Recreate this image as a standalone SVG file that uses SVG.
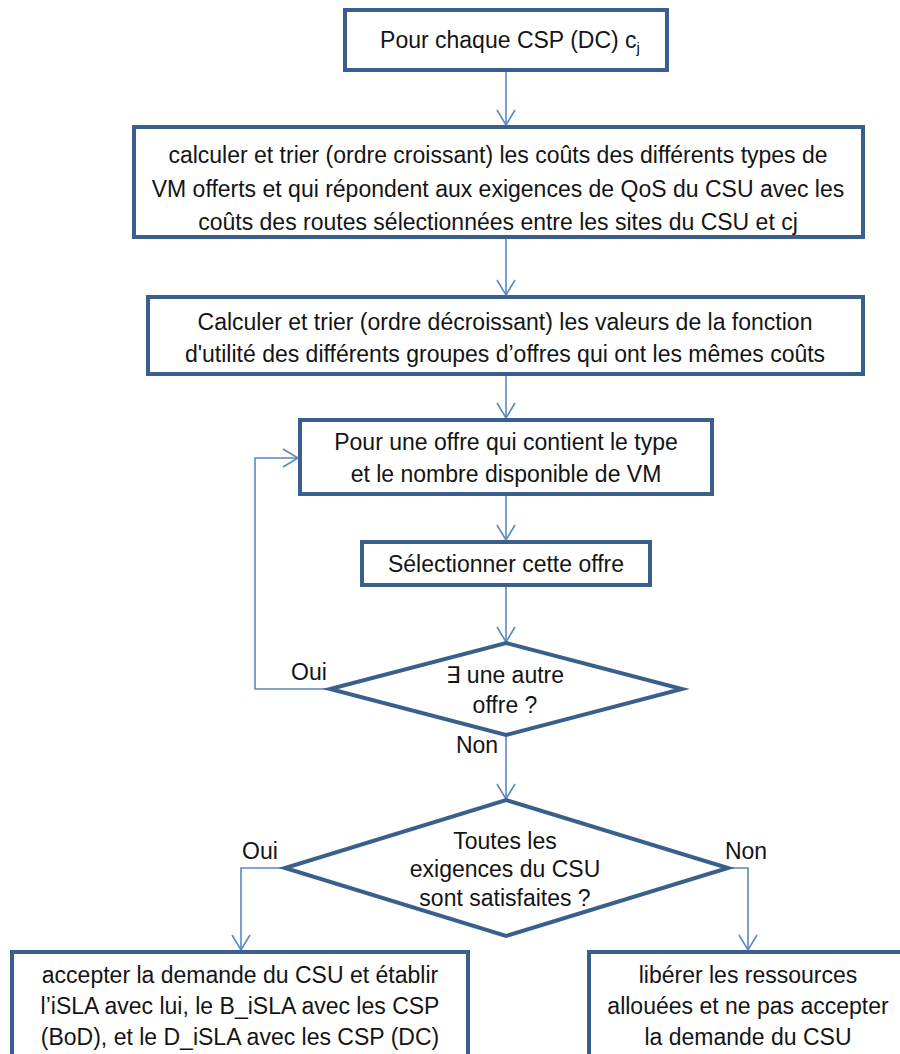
<svg xmlns="http://www.w3.org/2000/svg" width="900" height="1054" viewBox="0 0 900 1054">
  <style>
    .box { fill: #ffffff; stroke: #3a5f8d; stroke-width: 4; }
    .dec { fill: #ffffff; stroke: #3a5f8d; stroke-width: 4; stroke-linejoin: miter; }
    .t { font-family: "Liberation Sans", "DejaVu Sans", sans-serif; font-size: 23px; fill: #141414; text-anchor: middle; }
    .lbl { font-family: "Liberation Sans", "DejaVu Sans", sans-serif; font-size: 23px; fill: #141414; text-anchor: middle; }
    .edge { fill: none; stroke: #5b87c2; stroke-width: 1.6; }
  </style>
  <defs>
    <marker id="arrow" markerUnits="userSpaceOnUse" markerWidth="20" markerHeight="22" viewBox="-17 -11 19 22" refX="0" refY="0" orient="auto" overflow="visible">
      <path d="M-15,-9 L0,0 L-15,9" fill="none" stroke="#5b87c2" stroke-width="1.6"/>
    </marker>
  </defs>
  <rect width="900" height="1054" fill="#ffffff"/>

  <!-- connectors -->
  <g id="connectors">
    <path class="edge" d="M506,71 V125" marker-end="url(#arrow)"/>
    <path class="edge" d="M506,239 V295" marker-end="url(#arrow)"/>
    <path class="edge" d="M506,376 V418" marker-end="url(#arrow)"/>
    <path class="edge" d="M506,496 V540" marker-end="url(#arrow)"/>
    <path class="edge" d="M506,587 V642" marker-end="url(#arrow)"/>
    <path class="edge" d="M330,689 H255 V458 H298" marker-end="url(#arrow)"/>
    <path class="edge" d="M506,736 V799" marker-end="url(#arrow)"/>
    <path class="edge" d="M285,868 H241 V950" marker-end="url(#arrow)"/>
    <path class="edge" d="M728,868 H748 V950" marker-end="url(#arrow)"/>
  </g>

  <g id="start">
    <rect class="box" x="345" y="10" width="322" height="60"/>
    <text class="t" x="510" y="48">Pour chaque CSP (DC) c<tspan font-size="15" dy="5">j</tspan></text>
  </g>

  <g id="sort-costs">
    <rect class="box" x="134" y="127" width="729" height="110"/>
    <text class="t" x="498" y="163">calculer et trier (ordre croissant) les coûts des différents types de</text>
    <text class="t" x="498" y="197">VM offerts et qui répondent aux exigences de QoS du CSU avec les</text>
    <text class="t" x="498" y="230">coûts des routes sélectionnées entre les sites du CSU et cj</text>
  </g>

  <g id="sort-utility">
    <rect class="box" x="148" y="297" width="715" height="77"/>
    <text class="t" x="505" y="330">Calculer et trier (ordre décroissant) les valeurs de la fonction</text>
    <text class="t" x="505" y="362">d'utilité des différents groupes d’offres qui ont les mêmes coûts</text>
  </g>

  <g id="each-offer">
    <rect class="box" x="300" y="420" width="412" height="74"/>
    <text class="t" x="506" y="450">Pour une offre qui contient le type</text>
    <text class="t" x="506" y="482">et le nombre disponible de VM</text>
  </g>

  <g id="select-offer">
    <rect class="box" x="362" y="542" width="288" height="43"/>
    <text class="t" x="506" y="572">Sélectionner cette offre</text>
  </g>

  <g id="other-offer">
    <polygon class="dec" points="506,643 682,689 506,735 330,689"/>
    <text class="t" x="505" y="683">∃ une autre</text>
    <text class="t" x="505" y="713">offre ?</text>
    <text class="lbl" x="309" y="680">Oui</text>
    <text class="lbl" x="477" y="753">Non</text>
  </g>

  <g id="requirements-met">
    <polygon class="dec" points="506,800 728,868 506,936 285,868"/>
    <text class="t" x="505" y="849">Toutes les</text>
    <text class="t" x="505" y="877">exigences du CSU</text>
    <text class="t" x="505" y="906">sont satisfaites ?</text>
    <text class="lbl" x="260" y="859">Oui</text>
    <text class="lbl" x="746" y="859">Non</text>
  </g>

  <g id="accept">
    <rect class="box" x="12" y="952" width="456" height="130"/>
    <text class="t" x="240" y="983">accepter la demande du CSU et établir</text>
    <text class="t" x="240" y="1014">l’iSLA avec lui, le B_iSLA avec les CSP</text>
    <text class="t" x="240" y="1045">(BoD), et le D_iSLA avec les CSP (DC)</text>
  </g>

  <g id="reject">
    <rect class="box" x="589" y="952" width="330" height="130"/>
    <text class="t" x="748" y="983">libérer les ressources</text>
    <text class="t" x="748" y="1014">allouées et ne pas accepter</text>
    <text class="t" x="748" y="1045">la demande du CSU</text>
  </g>
</svg>
